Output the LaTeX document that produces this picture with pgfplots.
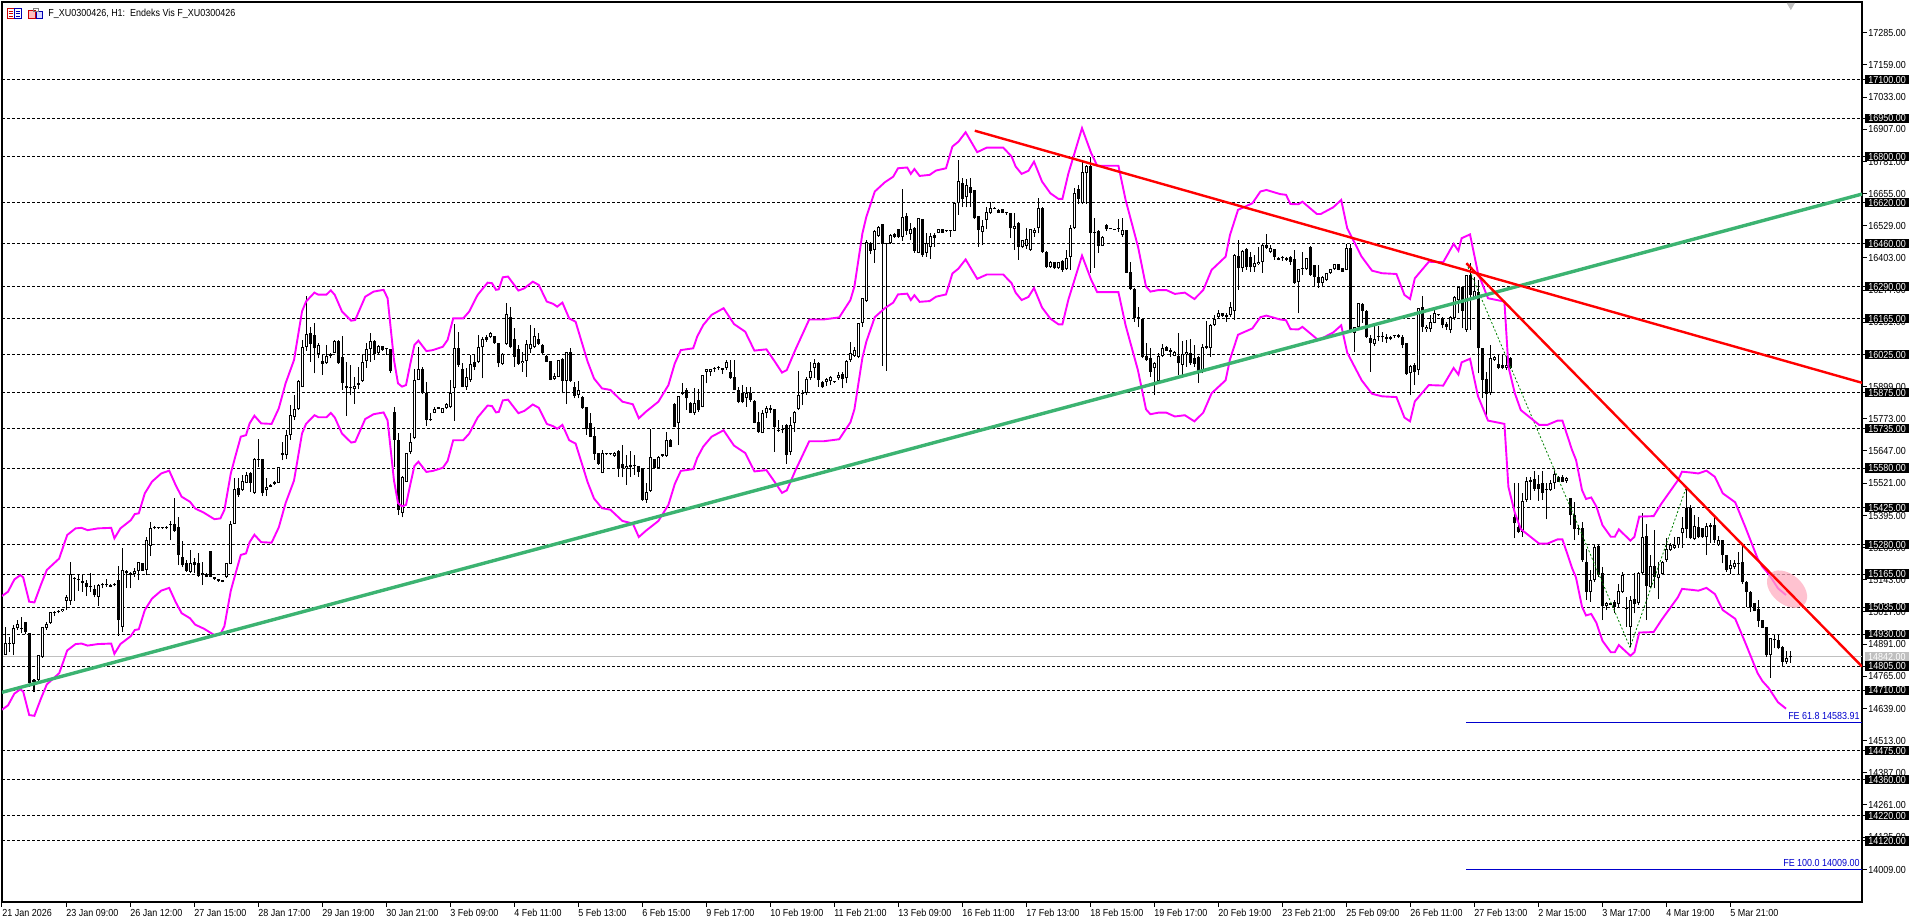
\documentclass[border=0pt]{standalone}
\usepackage{fontspec}
\setmainfont[FakeStretch=0.88]{Liberation Sans}
\usepackage{pgfplots}
\usepackage{pgfplotstable}
\pgfplotsset{compat=1.18}
\definecolor{envmag}{RGB}{255,0,255}
\definecolor{trendgreen}{RGB}{60,179,113}
\definecolor{femblue}{RGB}{0,0,205}

% hourly bars: bar open high low close
\pgfplotstableread{
i o h l c
0 14848 14854 14838 14841
1 14850 14959 14848 14897
2 14897 14919 14861 14893
3 14893 14965 14848 14952
4 14952 14985 14946 14968
5 14955 14998 14933 14951
6 14976 14976 14930 14939
7 14933 14933 14724 14737
8 14743 14756 14704 14750
9 14750 14850 14743 14850
10 14841 14956 14838 14956
11 14955 14978 14946 14969
12 14974 15017 14970 15017
13 15011 15020 15000 15017
14 15020 15024 15011 15017
15 15020 15030 15018 15028
16 15060 15085 15024 15074
17 15059 15212 15044 15164
18 15151 15154 15060 15147
19 15144 15161 15100 15141
20 15139 15161 15096 15131
21 15131 15141 15079 15115
22 15113 15168 15096 15118
23 15107 15122 15074 15083
24 15076 15128 15040 15124
25 15121 15131 15109 15123
26 15122 15144 15115 15121
27 15124 15126 15113 15115
28 15121 15129 15119 15127
29 15141 15196 14923 14985
30 14959 15267 14939 15181
31 15179 15181 15109 15168
32 15168 15174 15109 15161
33 15165 15187 15154 15179
34 15177 15211 15141 15211
35 15208 15210 15177 15179
36 15181 15311 15161 15298
37 15275 15370 15235 15344
38 15345 15353 15340 15347
39 15347 15351 15342 15345
40 15346 15350 15343 15345
41 15344 15353 15341 15350
42 15361 15373 15298 15359
43 15361 15464 15331 15335
44 15348 15390 15200 15239
45 15230 15294 15191 15200
46 15208 15220 15174 15178
47 15174 15259 15168 15207
48 15213 15229 15168 15200
49 15209 15246 15155 15157
50 15161 15213 15122 15168
51 15166 15168 15152 15154
52 15255 15255 15152 15154
53 15153 15154 15142 15144
54 15144 15145 15135 15136
55 15141 15143 15133 15135
56 15152 15207 15150 15207
57 15205 15373 15203 15363
58 15363 15540 15361 15497
59 15504 15540 15468 15474
60 15494 15553 15491 15531
61 15523 15564 15520 15553
62 15562 15566 15487 15523
63 15484 15620 15480 15614
64 15616 15692 15585 15613
65 15614 15616 15470 15481
66 15494 15540 15470 15507
67 15513 15516 15505 15507
68 15527 15529 15515 15517
69 15523 15585 15521 15583
70 15638 15681 15611 15633
71 15631 15729 15614 15709
72 15709 15827 15690 15788
73 15781 15866 15768 15810
74 15810 15925 15807 15921
75 15899 16082 15897 16055
76 16055 16254 16040 16104
77 16108 16134 15997 16066
78 16101 16147 15951 16049
79 16027 16068 16010 16062
80 16001 16023 15945 15988
81 15990 16062 15988 16019
82 16019 16029 16010 16025
83 16032 16080 16030 16078
84 16078 16082 15988 15990
85 16014 16097 15886 15914
86 15901 15997 15785 15895
87 15896 15984 15866 15892
88 15888 15938 15831 15901
89 15905 15977 15888 15912
90 15922 16023 15918 15997
91 16001 16068 15973 16045
92 16045 16108 15997 16079
93 16079 16082 16003 16025
94 16029 16062 16027 16059
95 16059 16060 16040 16042
96 16050 16051 16023 16048
97 16045 16047 15954 15960
98 15798 15818 15585 15690
99 15690 15716 15396 15416
100 15405 15548 15387 15546
101 15527 15640 15525 15638
102 15644 15719 15635 15683
103 15696 15967 15692 15925
104 15925 16055 15923 15967
105 15967 15977 15870 15873
106 15873 15918 15745 15768
107 15769 15794 15765 15767
108 15797 15820 15794 15810
109 15818 15820 15811 15813
110 15797 15816 15795 15814
111 15814 15833 15812 15831
112 15818 15925 15814 15875
113 15892 16144 15766 16049
114 16049 16114 15977 15984
115 15967 15990 15896 15899
116 15899 15971 15886 15938
117 15925 16023 15918 15988
118 15997 16023 15964 15975
119 15997 16101 15990 16053
120 16053 16095 15931 16084
121 16095 16101 16075 16082
122 16092 16114 16088 16108
123 16097 16099 16066 16068
124 16068 16070 15974 15990
125 15988 16029 15985 16027
126 16065 16228 16062 16182
127 16170 16212 16049 16053
128 16084 16127 15977 16016
129 16045 16062 15984 15988
130 15993 16036 15958 16001
131 16001 16082 15938 16065
132 16045 16140 16029 16065
133 16053 16127 16049 16097
134 16085 16110 16062 16066
135 16062 16064 16027 16029
136 16019 16021 15995 15997
137 15999 16001 15923 15925
138 15927 15951 15925 15941
139 15938 16005 15936 16003
140 16007 16010 15873 15922
141 15922 16036 15830 16033
142 16033 16049 15918 15922
143 15896 15918 15853 15864
144 15866 15921 15853 15886
145 15860 15862 15812 15814
146 15818 15820 15710 15732
147 15755 15794 15700 15703
148 15707 15742 15612 15635
149 15638 15640 15594 15596
150 15562 15651 15559 15640
151 15638 15640 15632 15634
152 15637 15640 15632 15634
153 15627 15643 15625 15640
154 15647 15649 15546 15579
155 15596 15670 15544 15579
156 15579 15631 15514 15588
157 15592 15648 15546 15583
158 15592 15631 15553 15588
159 15588 15590 15546 15566
160 15579 15581 15452 15457
161 15457 15520 15444 15487
162 15491 15732 15487 15622
163 15614 15616 15579 15582
164 15579 15627 15577 15625
165 15634 15636 15625 15627
166 15627 15723 15625 15690
167 15690 15692 15662 15664
168 15831 15833 15740 15742
169 15755 15862 15670 15862
170 15870 15914 15866 15877
171 15886 15892 15807 15853
172 15836 15838 15795 15797
173 15794 15892 15788 15833
174 15846 15888 15801 15807
175 15820 15946 15818 15944
176 15957 15967 15912 15967
177 15957 15967 15940 15967
178 15968 15977 15957 15973
179 15971 15981 15964 15977
180 15968 15970 15948 15966
181 15971 16003 15964 15995
182 15957 16003 15929 15931
183 15937 16003 15884 15886
184 15886 15899 15833 15840
185 15873 15905 15833 15840
186 15856 15899 15820 15873
187 15875 15899 15840 15846
188 15844 15846 15755 15758
189 15762 15801 15719 15723
190 15719 15807 15716 15794
191 15794 15823 15775 15816
192 15814 15827 15794 15807
193 15810 15812 15644 15742
194 15730 15768 15722 15727
195 15735 15749 15716 15729
196 15749 15751 15596 15631
197 15644 15781 15631 15749
198 15755 15803 15723 15801
199 15810 15961 15807 15866
200 15875 15886 15827 15870
201 15875 15938 15866 15927
202 15931 15997 15925 15961
203 15971 16006 15931 15990
204 15993 15995 15899 15925
205 15918 15920 15894 15896
206 15918 15931 15901 15929
207 15922 15940 15905 15938
208 15919 15920 15915 15917
209 15931 15957 15925 15944
210 15948 15957 15892 15927
211 15931 16003 15912 15999
212 16003 16075 15996 16032
213 16019 16055 16016 16042
214 16016 16149 16010 16147
215 16149 16247 16134 16245
216 16234 16473 16232 16467
217 16460 16467 16418 16431
218 16434 16513 16384 16510
219 16489 16528 16486 16523
220 16536 16536 15980 16458
221 16461 16463 15961 16457
222 16460 16495 16458 16493
223 16497 16499 16482 16484
224 16515 16517 16482 16484
225 16486 16673 16469 16565
226 16567 16578 16493 16510
227 16497 16539 16473 16515
228 16519 16525 16424 16431
229 16424 16560 16421 16558
230 16554 16556 16408 16414
231 16424 16499 16408 16463
232 16447 16499 16398 16489
233 16493 16502 16447 16480
234 16502 16517 16500 16515
235 16515 16517 16500 16502
236 16509 16510 16505 16507
237 16510 16511 16486 16508
238 16510 16619 16508 16617
239 16617 16787 16571 16704
240 16695 16715 16604 16633
241 16640 16711 16601 16689
242 16682 16715 16604 16656
243 16667 16669 16556 16558
244 16567 16569 16447 16512
245 16506 16552 16454 16528
246 16552 16604 16515 16582
247 16578 16621 16575 16600
248 16600 16602 16593 16595
249 16591 16593 16578 16580
250 16593 16595 16578 16580
251 16578 16580 16571 16577
252 16578 16580 16480 16519
253 16518 16578 16434 16528
254 16541 16543 16395 16447
255 16447 16475 16441 16473
256 16450 16519 16437 16476
257 16434 16517 16431 16515
258 16502 16519 16486 16512
259 16519 16636 16499 16597
260 16600 16602 16424 16428
261 16428 16430 16365 16366
262 16366 16390 16364 16388
263 16386 16388 16360 16362
264 16362 16388 16360 16386
265 16391 16393 16349 16356
266 16358 16434 16356 16401
267 16408 16532 16356 16519
268 16519 16676 16516 16656
269 16672 16689 16614 16633
270 16617 16780 16614 16741
271 16734 16767 16614 16763
272 16763 16797 16345 16502
273 16504 16558 16365 16501
274 16509 16511 16424 16450
275 16451 16488 16449 16486
276 16532 16536 16510 16515
277 16520 16522 16516 16518
278 16516 16518 16512 16514
279 16521 16554 16506 16518
280 16493 16558 16486 16512
281 16512 16514 16343 16345
282 16347 16388 16277 16280
283 16283 16285 16153 16169
284 16170 16212 16131 16162
285 16164 16166 16010 16016
286 16020 16071 16001 16003
287 16010 16051 15938 15957
288 15971 15997 15866 15990
289 15922 16032 15918 16019
290 16019 16065 16016 16051
291 16055 16057 16038 16040
292 16042 16049 16016 16033
293 16019 16038 16017 16036
294 16019 16108 15944 15990
295 15984 16079 15944 16027
296 16027 16082 15977 16036
297 16029 16084 15984 15990
298 16010 16062 15977 15988
299 16016 16018 15914 15957
300 15957 16065 15951 16053
301 16058 16157 16047 16049
302 16049 16144 16016 16139
303 16140 16180 16136 16162
304 16173 16199 16166 16186
305 16186 16188 16173 16175
306 16173 16186 16153 16180
307 16180 16232 16173 16212
308 16195 16417 16160 16415
309 16411 16473 16277 16362
310 16362 16434 16349 16431
311 16438 16440 16356 16369
312 16405 16428 16349 16366
313 16366 16415 16349 16382
314 16379 16447 16375 16388
315 16388 16456 16345 16454
316 16454 16495 16439 16441
317 16428 16454 16421 16441
318 16437 16439 16395 16408
319 16404 16406 16393 16395
320 16403 16411 16392 16401
321 16402 16408 16390 16395
322 16408 16410 16375 16388
323 16398 16434 16301 16306
324 16310 16358 16186 16358
325 16363 16428 16336 16361
326 16358 16403 16356 16401
327 16447 16449 16334 16336
328 16375 16377 16290 16330
329 16330 16375 16287 16306
330 16306 16332 16288 16330
331 16316 16345 16314 16343
332 16343 16360 16341 16358
333 16358 16381 16356 16379
334 16379 16381 16354 16356
335 16362 16364 16347 16349
336 16356 16456 16354 16441
337 16441 16456 16108 16121
338 16108 16134 16036 16134
339 16131 16227 16129 16225
340 16221 16225 16149 16196
341 16196 16198 16090 16092
342 16088 16101 15957 16071
343 16065 16138 16058 16086
344 16095 16137 16079 16093
345 16097 16114 16075 16092
346 16095 16104 16071 16084
347 16095 16099 16080 16087
348 16098 16103 16090 16096
349 16101 16105 16090 16095
350 16095 16101 16049 16062
351 16069 16071 15946 15948
352 15954 15984 15866 15980
353 15984 15990 15905 15957
354 15964 16208 15944 16206
355 16210 16255 16114 16134
356 16123 16140 16114 16134
357 16123 16180 16114 16153
358 16149 16210 16147 16189
359 16181 16183 16177 16179
360 16166 16173 16127 16140
361 16144 16153 16121 16131
362 16121 16175 16108 16173
363 16166 16253 16160 16251
364 16238 16293 16186 16288
365 16290 16292 16127 16196
366 16121 16338 16114 16336
367 16336 16382 16121 16258
368 16251 16330 16245 16275
369 16271 16316 15951 16049
370 16049 16051 15853 15925
371 15927 15957 15781 15870
372 15873 16062 15866 16010
373 16003 16018 16001 16016
374 15986 16023 15967 15973
375 15984 16023 15967 15971
376 15971 16020 15964 15984
377 16010 16016 15967 15971
378 15390 15520 15305 15364
379 15350 15520 15324 15331
380 15331 15481 15311 15451
381 15455 15546 15448 15530
382 15533 15546 15455 15527
383 15537 15570 15491 15500
384 15517 15553 15452 15497
385 15520 15570 15455 15484
386 15494 15520 15379 15500
387 15494 15533 15491 15523
388 15520 15570 15500 15557
389 15546 15548 15525 15527
390 15546 15552 15524 15527
391 15529 15546 15523 15542
392 15461 15463 15357 15396
393 15396 15448 15298 15340
394 15345 15357 15318 15343
395 15346 15370 15213 15220
396 15213 15265 15063 15096
397 15096 15181 15057 15141
398 15141 15279 15135 15272
399 15275 15279 15154 15161
400 15168 15194 14985 15040
401 15041 15057 15024 15050
402 15050 15052 15042 15044
403 15057 15063 15011 15037
404 15046 15128 15037 15098
405 15096 15174 15092 15161
406 15029 15076 14959 15027
407 14959 15079 14878 15063
408 15066 15170 15011 15047
409 15050 15172 15043 15170
410 15168 15403 15161 15311
411 15314 15361 14985 15118
412 15115 15239 15109 15196
413 15196 15337 15109 15154
414 15148 15213 15067 15165
415 15165 15215 15161 15213
416 15220 15305 15213 15262
417 15259 15288 15256 15279
418 15269 15309 15265 15279
419 15279 15311 15269 15309
420 15324 15389 15269 15344
421 15422 15500 15305 15341
422 15422 15435 15301 15305
423 15301 15396 15298 15353
424 15350 15387 15305 15309
425 15344 15346 15307 15309
426 15309 15366 15239 15353
427 15350 15366 15285 15357
428 15357 15389 15285 15298
429 15279 15314 15275 15298
430 15298 15300 15207 15239
431 15239 15241 15174 15181
432 15183 15220 15165 15200
433 15191 15220 15183 15207
434 15207 15252 15165 15206
435 15213 15275 15126 15135
436 15135 15139 15037 15096
437 15096 15098 15017 15037
438 15050 15052 15019 15021
439 15027 15063 14959 14982
440 14985 14987 14953 14955
441 14956 14959 14841 14848
442 14848 14916 14759 14913
443 14907 14930 14874 14905
444 14906 14930 14870 14874
445 14880 14882 14805 14822
446 14822 14863 14812 14835
447 14839 14863 14818 14842
}\candles

% envelope bands: x upper lower
\pgfplotstableread{
x u l
0.0 15079 14634
1.5 15096 14651
3.1 15144 14697
4.6 15161 14714
5.3 15152 14705
6.8 15057 14613
8.1 15054 14610
9.7 15122 14676
11.2 15181 14733
14.3 15226 14777
15.3 15272 14821
16.3 15318 14866
18.4 15344 14891
19.9 15346 14893
21.4 15337 14885
24.0 15344 14891
27.3 15346 14893
28.1 15305 14853
29.6 15344 14891
32.2 15376 14922
33.2 15400 14946
34.2 15403 14949
35.7 15481 15024
37.5 15527 15069
39.8 15559 15100
41.8 15570 15111
43.4 15514 15056
44.9 15468 15012
47.0 15448 14992
48.3 15422 14967
50.5 15405 14951
53.1 15380 14926
54.6 15383 14929
55.6 15416 14961
57.2 15559 15100
58.2 15618 15157
59.7 15703 15240
61.0 15709 15246
61.9 15755 15290
63.1 15785 15319
64.8 15755 15290
67.4 15753 15288
69.2 15814 15348
70.9 15912 15443
73.0 16003 15531
75.0 16193 15715
76.0 16232 15753
78.1 16267 15787
79.1 16259 15779
81.1 16259 15779
82.2 16276 15796
83.2 16258 15778
85.0 16193 15715
87.3 16157 15680
88.3 16160 15683
90.8 16251 15772
92.9 16271 15791
95.4 16278 15798
96.4 16245 15766
98.0 16003 15531
99.0 15912 15443
100.0 15899 15430
101.0 15905 15436
102.1 15990 15518
103.1 16062 15588
104.1 16079 15605
106.1 16038 15565
107.7 16042 15569
110.2 16055 15581
111.4 16082 15608
112.8 16166 15689
115.3 16166 15689
116.8 16193 15715
118.9 16258 15778
121.4 16306 15825
122.5 16304 15823
123.5 16278 15798
124.2 16280 15800
125.2 16327 15845
126.5 16330 15848
129.1 16275 15795
130.6 16284 15804
132.7 16310 15829
134.2 16297 15816
136.2 16232 15753
137.8 16223 15744
138.8 16212 15734
140.1 16228 15749
141.8 16166 15689
143.4 16153 15676
144.9 16075 15601
146.4 15997 15525
148.0 15931 15461
150.0 15892 15423
152.1 15886 15417
155.1 15840 15373
157.7 15830 15363
159.2 15775 15310
161.0 15801 15335
164.1 15840 15373
166.6 15905 15436
168.2 15990 15518
169.7 16042 15569
172.8 16049 15576
173.8 16095 15620
175.3 16140 15664
177.4 16180 15703
180.4 16206 15728
183.0 16144 15668
185.8 16114 15639
188.1 16040 15567
191.1 16045 15572
193.2 15997 15525
195.0 15954 15483
196.2 15964 15493
198.3 16042 15569
201.8 16162 15685
205.4 16162 15685
209.3 16170 15693
212.1 16238 15759
213.1 16291 15810
215.1 16499 16012
216.1 16565 16076
218.2 16663 16171
220.7 16699 16206
222.8 16721 16228
224.0 16754 16260
226.3 16757 16263
227.2 16732 16238
228.1 16751 16257
229.4 16724 16231
231.9 16728 16234
233.5 16745 16251
236.0 16754 16260
237.6 16839 16342
239.1 16858 16361
240.9 16895 16397
243.8 16817 16321
246.2 16835 16338
250.3 16835 16338
252.4 16800 16304
253.4 16761 16267
254.9 16732 16238
256.6 16744 16250
258.0 16780 16285
260.0 16702 16209
262.1 16656 16165
264.1 16634 16143
265.1 16634 16143
266.6 16734 16240
270.0 16911 16412
272.3 16813 16317
273.8 16764 16269
279.1 16764 16269
280.9 16630 16139
284.0 16447 15962
286.0 16291 15810
287.1 16271 15791
289.1 16277 15797
291.1 16277 15797
293.2 16262 15782
295.7 16267 15787
298.1 16242 15763
300.3 16277 15797
302.4 16356 15873
305.9 16408 15924
307.0 16493 16006
309.0 16591 16102
312.6 16617 16127
314.6 16663 16171
316.1 16669 16177
319.5 16653 16162
321.0 16650 16159
322.1 16614 16124
324.1 16613 16123
325.1 16623 16133
328.7 16575 16086
329.7 16575 16086
332.8 16601 16111
334.8 16630 16139
336.3 16519 16032
339.9 16408 15924
342.5 16353 15871
345.0 16343 15861
348.6 16340 15858
350.6 16258 15778
352.0 16242 15763
353.2 16323 15841
356.7 16388 15905
360.3 16386 15903
362.9 16458 15972
364.1 16431 15946
364.9 16480 15994
367.0 16495 16008
369.0 16343 15861
371.5 16245 15766
375.6 16232 15753
376.6 15977 15506
378.2 15873 15405
379.7 15807 15341
384.3 15749 15284
386.3 15749 15284
388.9 15766 15301
390.1 15766 15301
392.5 15651 15189
393.5 15612 15151
395.0 15494 15037
396.0 15459 15003
397.3 15465 15009
398.6 15429 14974
400.1 15357 14904
402.2 15311 14859
403.2 15311 14859
404.2 15340 14887
407.1 15296 14845
408.1 15311 14859
409.3 15390 14936
412.9 15392 14938
414.9 15442 14986
419.0 15533 15075
420.0 15566 15107
422.6 15562 15103
424.1 15559 15100
426.1 15570 15111
428.2 15546 15087
430.2 15481 15024
433.3 15446 14990
435.8 15350 14897
438.9 15226 14777
440.1 15194 14746
441.7 15165 14718
444.0 15109 14663
446.0 15083 14638
}\bands

\begin{document}
\begin{tikzpicture}
\useasboundingbox (0,0) rectangle (960pt,461.5pt);
\begin{axis}[
    at={(1pt,10.5pt)}, anchor=south west,
    scale only axis, width=930pt, height=450pt,
    xmin=0, xmax=465, ymin=13881, ymax=17405,
    clip mode=individual,
    axis line style={line width=0.55pt},
    tick style={black, line width=0.5pt},
    tick align=outside, major tick length=2.3pt,
    xtick pos=bottom, ytick pos=right, yticklabel pos=right,
    xtick={0,16,...,432},
    xticklabels={21 Jan 2026,23 Jan 09:00,26 Jan 12:00,27 Jan 15:00,28 Jan 17:00,29 Jan 19:00,30 Jan 21:00,3 Feb 09:00,4 Feb 11:00,5 Feb 13:00,6 Feb 15:00,9 Feb 17:00,10 Feb 19:00,11 Feb 21:00,13 Feb 09:00,16 Feb 11:00,17 Feb 13:00,18 Feb 15:00,19 Feb 17:00,20 Feb 19:00,23 Feb 21:00,25 Feb 09:00,26 Feb 11:00,27 Feb 13:00,2 Mar 15:00,3 Mar 17:00,4 Mar 19:00,5 Mar 21:00},
    xticklabel style={anchor=north west, inner sep=0pt, yshift=-1pt, font=\fontsize{5.1}{5.5}\selectfont},
    ytick={17285,17159,17033,16907,16781,16655,16529,16403,16277,16151,15899,15773,15647,15521,15395,15269,15143,15017,14891,14765,14639,14513,14387,14261,14135,14009},
    extra y ticks={17100,16950,16800,16620,16460,16290,16165,16025,15875,15735,15580,15425,15280,15165,15035,14930,14805,14710,14475,14360,14220,14120},
    yticklabel style={anchor=west, inner xsep=0pt, inner ysep=0.45pt, xshift=0.7pt, text height=3.7pt, text depth=0pt, font=\fontsize{5.1}{5.5}\selectfont,
        /pgf/number format/fixed, /pgf/number format/fixed zerofill, /pgf/number format/precision=2, /pgf/number format/1000 sep={}, /pgf/number format/assume math mode=true},
    extra y tick style={yticklabel style={fill=black, text=white, inner xsep=1.5pt, xshift=-1.5pt}},
    scaled y ticks=false,
]
% horizontal levels
\pgfplotsinvokeforeach{17100,16950,16800,16620,16460,16290,16165,16025,15875,15735,15580,15425,15280,15165,15035,14930,14805,14710,14475,14360,14220,14120}{
    \addplot[black, line width=0.5pt, dash pattern=on 1.5pt off 1pt, forget plot] coordinates {(0,#1) (465,#1)};
}
\addplot[color={rgb,255:red,192;green,192;blue,192}, line width=0.5pt, forget plot] coordinates {(0,14842) (465,14842)};
% FE levels
\addplot[femblue, line width=0.5pt, forget plot] coordinates {(366.1,14583.91) (465,14583.91)};
\addplot[femblue, line width=0.5pt, forget plot] coordinates {(366.1,14009) (465,14009)};
% wicks
\addplot[draw=none, mark=none, forget plot, error bars/.cd, y dir=plus, y explicit, error mark=none, error bar style={draw=black, line width=0.5pt}]
    table[x=i, y=l, y error plus expr={\thisrow{h}-\thisrow{l}}] {\candles};
% bodies
\addplot[draw=none, mark=none, forget plot, error bars/.cd, y dir=plus, y explicit, error mark=none, error bar style={draw=black, line width=1.5pt}]
    table[x=i, y expr={min(\thisrow{o},\thisrow{c})}, y error plus expr={max(abs(\thisrow{c}-\thisrow{o}),4)}] {\candles};
% hollow inside of the up bars
\addplot[draw=none, mark=none, forget plot, error bars/.cd, y dir=plus, y explicit, error mark=none, error bar style={draw=white, line width=0.5pt}]
    table[x=i, y expr={\thisrow{o}+3.9}, y error plus expr={max(\thisrow{c}-\thisrow{o}-7.8,0)}] {\candles};
% fibo expansion path
\addplot[color={rgb,255:red,0;green,128;blue,0}, line width=0.4pt, dash pattern=on 1pt off 1pt, forget plot] coordinates {(366.1,16382) (407,14878) (421,15502)};
% bands
\addplot[envmag, line width=0.95pt, forget plot] table[x=x, y=u] {\bands};
\addplot[envmag, line width=0.95pt, forget plot] table[x=x, y=l] {\bands};
% trend lines
\addplot[trendgreen, line width=1.7pt, forget plot] coordinates {(0,14702) (465,16653)};
\fill[color={rgb,255:red,255;green,170;blue,190}, opacity=0.72, rotate around={-40:(axis cs:446.25,15106)}] (axis cs:446.25,15106) ellipse [x radius=11.5pt, y radius=7.5pt];
\addplot[red, line width=1.2pt, forget plot] coordinates {(243.2,16901) (465,15914)};
\addplot[red, line width=1.2pt, forget plot] coordinates {(366.1,16382) (465,14803)};
\addplot[only marks, color=lightgray, mark=triangle*, mark size=2pt, mark options={rotate=180, fill=lightgray, draw=lightgray}, forget plot] coordinates {(447.2,17392)};
% right-hand labels
\node[fill=lightgray, text=white, anchor=west, inner xsep=1.5pt, inner ysep=0.45pt, text height=3.7pt, text depth=0pt, xshift=1.4pt, font=\fontsize{5.1}{5.5}\selectfont] at (axis cs:465,14842) {14842.00};
\node[text=femblue, anchor=south east, inner sep=0pt, yshift=1.3pt, xshift=-1pt, font=\fontsize{5.1}{5.5}\selectfont] at (axis cs:465,14583.91) {FE 61.8 14583.91};
\node[text=femblue, anchor=south east, inner sep=0pt, yshift=1.3pt, xshift=-1pt, font=\fontsize{5.1}{5.5}\selectfont] at (axis cs:465,14009) {FE 100.0 14009.00};
\end{axis}
% window header
\begin{scope}[shift={(0,461.5pt)}, x=0.5pt, y=-0.5pt]
\fill[white] (7,8) rectangle (21,18);
\draw[red!80!black, line width=0.4pt] (7.5,8.5) rectangle (14,18);
\draw[blue!70!black, line width=0.4pt] (14,8.5) rectangle (21,18);
\draw[red!80!black, line width=0.3pt] (8.5,11)--(12.5,11) (8.5,13.5)--(12.5,13.5) (8.5,16)--(12.5,16);
\draw[blue!70!black, line width=0.3pt] (15.5,11)--(19.5,11) (15.5,13.5)--(19.5,13.5) (15.5,16)--(19.5,16);
\fill[red!25] (28.5,10) rectangle (35,18);
\draw[red!80!black, line width=0.4pt] (28.5,10) rectangle (35,18);
\fill[blue!15] (36,11) rectangle (42.5,18);
\draw[blue!70!black, line width=0.4pt] (36,11) rectangle (42.5,18);
\draw[gray, line width=0.4pt] (33,8.5) rectangle (38,11);
\node[anchor=west, inner sep=0pt, font=\fontsize{5.1}{5.5}\selectfont] at (48,13.7) {F\_XU0300426, H1:\ \ Endeks Vis F\_XU0300426};
\end{scope}
\end{tikzpicture}
\end{document}
